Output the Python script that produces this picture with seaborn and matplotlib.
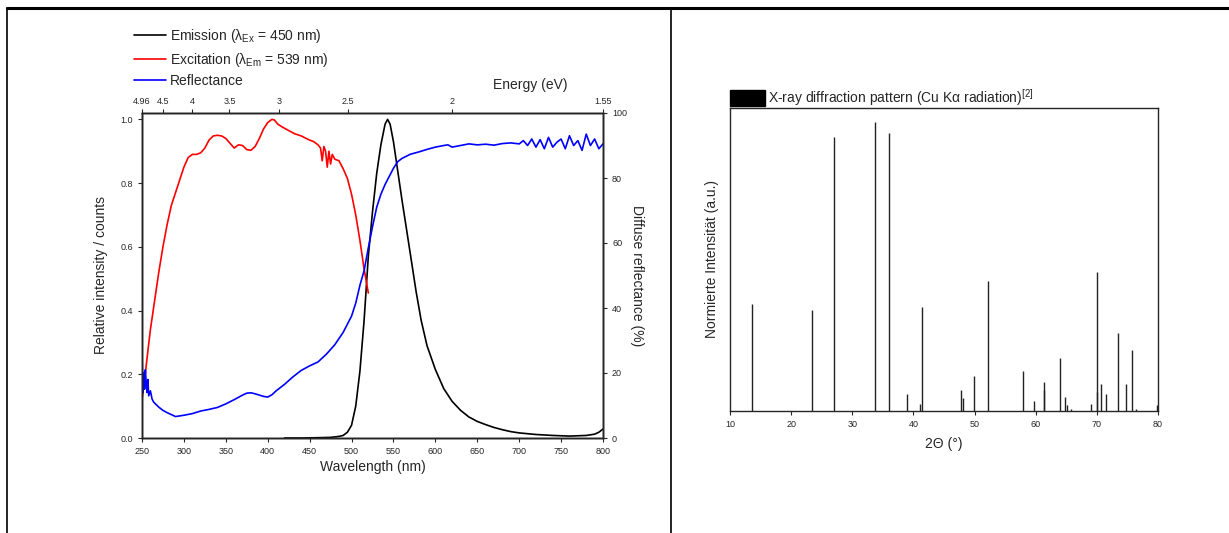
import numpy as np
import matplotlib
matplotlib.use("Agg")
import matplotlib.pyplot as plt
import seaborn as sns
from matplotlib.lines import Line2D
from matplotlib.patches import Patch

# -----------------------------
# Data
# -----------------------------

# emission spectrum (lambda_Ex = 450 nm)
em_wl = [420, 440, 460, 475, 485, 490, 495, 500, 505, 510, 515, 520, 525, 530,
         535, 540, 543, 546, 550, 555, 560, 565, 570, 577, 583, 590, 600, 610,
         620, 630, 640, 650, 660, 670, 680, 690, 700, 720, 740, 760, 780, 790,
         795, 800]
em_int = [0.0, 0.0, 0.001, 0.002, 0.005, 0.008, 0.018, 0.04, 0.1, 0.21, 0.37,
          0.57, 0.71, 0.83, 0.92, 0.985, 1.0, 0.985, 0.93, 0.84, 0.75, 0.665,
          0.58, 0.46, 0.37, 0.29, 0.215, 0.155, 0.115, 0.087, 0.066, 0.052,
          0.042, 0.033, 0.026, 0.02, 0.016, 0.011, 0.008, 0.006, 0.008, 0.012,
          0.018, 0.028]

# excitation spectrum (lambda_Em = 539 nm)
ex_wl = [250, 253, 256, 260, 265, 270, 275, 280, 285, 290, 295, 300, 305, 310,
         315, 320, 325, 330, 335, 340, 345, 350, 355, 360, 365, 370, 375, 380,
         385, 390, 395, 400, 405, 408, 412, 418, 425, 432, 440, 446, 450, 455,
         460, 463, 465, 467, 469, 471, 473, 475, 477, 480, 485, 490, 495, 500,
         505, 510, 515, 520]
ex_int = [0.12, 0.18, 0.25, 0.34, 0.43, 0.52, 0.6, 0.67, 0.73, 0.77, 0.81, 0.85,
          0.88, 0.89, 0.89, 0.895, 0.91, 0.935, 0.948, 0.95, 0.948, 0.94, 0.925,
          0.91, 0.92, 0.918, 0.905, 0.903, 0.915, 0.94, 0.97, 0.99, 1.0, 0.998,
          0.985, 0.975, 0.965, 0.955, 0.948, 0.94, 0.935, 0.93, 0.92, 0.91,
          0.87, 0.915, 0.9, 0.85, 0.9, 0.86, 0.89, 0.875, 0.87, 0.845, 0.815,
          0.765, 0.7, 0.62, 0.53, 0.455]

# diffuse reflectance (%)
refl_wl = [250, 251, 252, 253, 254, 255, 256, 257, 258, 260, 262, 264, 266, 268,
           270, 275, 280, 285, 290, 295, 300, 310, 320, 330, 340, 350, 360, 370,
           375, 380, 385, 390, 395, 400, 405, 410, 420, 430, 440, 450, 460, 470,
           480, 490, 500, 505, 510, 515, 520, 525, 530, 535, 540, 545, 550, 555,
           560, 570, 580, 590, 600, 610, 615, 620, 630, 640, 650, 660, 670, 680,
           690, 700, 705, 710, 715, 720, 725, 730, 735, 740, 745, 750, 755, 760,
           765, 770, 775, 780, 785, 790, 795, 800]
refl_pct = [26, 14, 20, 15, 21, 17, 14, 18, 13, 14.5, 12, 11, 10.5, 10, 9.5, 8.5,
            7.8, 7.2, 6.6, 6.8, 7.0, 7.5, 8.3, 8.8, 9.4, 10.5, 11.8, 13.2, 13.8,
            13.9, 13.6, 13.2, 12.8, 12.6, 13.3, 14.5, 16.5, 18.8, 20.8, 22.2,
            23.4, 25.8, 28.7, 32.5, 37.5, 41.5, 47, 51.5, 58.5, 65, 71, 75, 78,
            80.5, 83, 85, 86, 87.3, 88, 88.8, 89.5, 90, 90.2, 89.5, 90, 90.5,
            90.2, 90.4, 90.1, 90.6, 90.8, 90.5, 91.5, 90, 92, 89.5, 91.8, 89,
            92.5, 89.5, 91, 92, 89, 93, 90, 91.5, 88.5, 93.5, 90, 92, 89, 90.5]

# energy axis (eV)
energy_ticks = [4.96, 4.5, 4, 3.5, 3, 2.5, 2, 1.55]
energy_labels = ["4.96", "4.5", "4", "3.5", "3", "2.5", "2", "1.55"]

# X-ray diffraction reference pattern
xrd_pos = [13.55, 23.47, 27.06, 33.72, 36.06, 39.0, 41.13, 41.45, 47.8, 48.06,
           49.9, 52.2, 57.9, 59.7, 61.3, 61.3, 64.0, 64.8, 65.07, 65.7, 69.1,
           70.1, 70.1, 70.75, 71.55, 73.4, 74.8, 75.7, 76.45, 79.9]
xrd_int = [37.0, 35.0, 95.1, 100.0, 96.5, 6.0, 2.4, 36.0, 7.3, 4.4, 12.1, 45.2,
           13.9, 3.5, 10.2, 7.3, 18.3, 5.0, 2.1, 0.7, 2.4, 48.3, 6.7, 9.2, 6.0,
           27.0, 9.2, 21.2, 0.6, 2.1]

# -----------------------------
# Style
# -----------------------------
sns.set_style("ticks")
plt.rcParams["font.family"] = ["Liberation Sans", "DejaVu Sans"]
plt.rcParams["mathtext.fontset"] = "custom"
plt.rcParams["mathtext.rm"] = "Liberation Sans"
plt.rcParams["mathtext.it"] = "Liberation Sans:italic"
plt.rcParams["axes.linewidth"] = 1.0
plt.rcParams["xtick.major.size"] = 3
plt.rcParams["ytick.major.size"] = 3
plt.rcParams["xtick.major.width"] = 0.8
plt.rcParams["ytick.major.width"] = 0.8

fig = plt.figure(figsize=(12.29, 5.33), dpi=100)

# -----------------------------
# Left panel: luminescence spectra
# -----------------------------
ax = fig.add_axes([142 / 1229, 1 - 438 / 533, 461 / 1229, 325 / 533])
ax_r = ax.twinx()
ax_top = ax.twiny()

sns.lineplot(x=em_wl, y=em_int, ax=ax, color="black", linewidth=1.2)
sns.lineplot(x=ex_wl, y=ex_int, ax=ax, color="red", linewidth=1.2)
sns.lineplot(x=refl_wl, y=refl_pct, ax=ax_r, color="blue", linewidth=1.2)

ax.set_xlim(250, 800)
ax.set_ylim(0, 1.02)
ax.set_xticks(range(250, 801, 50))
ax.set_yticks([0.0, 0.2, 0.4, 0.6, 0.8, 1.0])
ax.set_yticklabels(["0.0", "0.2", "0.4", "0.6", "0.8", "1.0"])
ax.tick_params(labelsize=6.5)
ax.set_xlabel("Wavelength (nm)", fontsize=10, labelpad=3)
ax.set_ylabel("Relative intensity / counts", fontsize=10, labelpad=9)

ax_r.set_ylim(0, 100)
ax_r.set_yticks([0, 20, 40, 60, 80, 100])
ax_r.tick_params(labelsize=6.5)
ax_r.set_ylabel("Diffuse reflectance (%)", fontsize=10, rotation=270,
                labelpad=12)

ax_top.set_xlim(250, 800)
ax_top.set_xticks([1240 / e for e in energy_ticks])
ax_top.set_xticklabels(energy_labels)
ax_top.tick_params(labelsize=6.5, pad=2)
fig.text(530 / 1229, 1 - 85 / 533, "Energy (eV)", fontsize=10,
         ha="center", va="center")

handles = [
    Line2D([], [], color="black", linewidth=1.2),
    Line2D([], [], color="red", linewidth=1.2),
    Line2D([], [], color="blue", linewidth=1.2),
]
labels = [
    r"Emission (λ$_\mathrm{Ex}$ = 450 nm)",
    r"Excitation (λ$_\mathrm{Em}$ = 539 nm)",
    "Reflectance",
]
fig.legend(handles, labels, loc="upper left",
           bbox_to_anchor=(134 / 1229, 1 - 27 / 533), frameon=False,
           fontsize=10, handlelength=2.3, handletextpad=0.3,
           labelspacing=0.4, borderpad=0, borderaxespad=0)

# -----------------------------
# Right panel: XRD pattern
# -----------------------------
ax2 = fig.add_axes([730 / 1229, 1 - 411 / 533, 428 / 1229, 303 / 533])
ax2.vlines(xrd_pos, 0, xrd_int, color="#222222", linewidth=1.0)
ax2.set_xlim(10, 80)
ax2.set_ylim(0, 105)
ax2.set_xticks(range(10, 81, 10))
ax2.set_yticks([])
ax2.tick_params(labelsize=6.5)
ax2.set_xlabel("2Θ (°)", fontsize=10, labelpad=6)
ax2.set_ylabel("Normierte Intensität (a.u.)", fontsize=10, labelpad=8)
for side in ["top", "right", "left", "bottom"]:
    ax2.spines[side].set_visible(True)

ax2.legend([Patch(facecolor="black", edgecolor="black")],
           [r"X-ray diffraction pattern (Cu Kα radiation)$^{[2]}$"],
           loc="lower left", bbox_to_anchor=(0, 1), frameon=False,
           fontsize=10, handlelength=2.5, handleheight=1.3,
           handletextpad=0.25, borderpad=0, borderaxespad=0)

# -----------------------------
# Table-like frame lines
# -----------------------------
fig.add_artist(Line2D([7 / 1229, 1], [1 - 8 / 533, 1 - 8 / 533],
                      transform=fig.transFigure, color="black", linewidth=2.2))
fig.add_artist(Line2D([7 / 1229, 7 / 1229], [0, 1 - 8 / 533],
                      transform=fig.transFigure, color="black", linewidth=1.2))
fig.add_artist(Line2D([671 / 1229, 671 / 1229], [0, 1 - 8 / 533],
                      transform=fig.transFigure, color="black", linewidth=1.2))

fig.savefig("out.png", dpi=100)
